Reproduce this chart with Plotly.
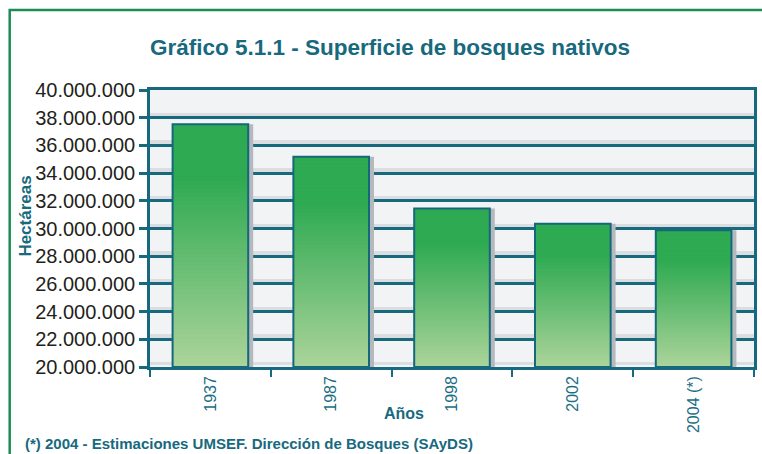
import plotly.graph_objects as go

# ---- data ----
years = ["1937", "1987", "1998", "2002", "2004 (*)"]
hectares = [37535000, 35180000, 31445000, 30350000, 29880000]
y_base = 20000000
y_top = 40000000
y_step = 2000000

title_text = "Gráfico 5.1.1 - Superficie de bosques nativos"
y_title = "Hectáreas"
x_title = "Años"
footnote = "(*) 2004 - Estimaciones UMSEF. Dirección de Bosques (SAyDS)"

# ---- style ----
W, H = 762, 454
L, R, T, B = 150, 5, 90, 87
pw, ph = W - L - R, H - T - B
teal = "#17697e"
frame_green = "#1d8c56"
bar_w = 0.626
top_col = (46, 170, 82)
bot_col = (172, 212, 154)
n_seg = 60
solid_frac = 0.22


def px_x(px):
    return (px - L) / pw


def px_y(py):
    return (H - B - py) / ph


def seg_color(k):
    f = (k + 0.5) / n_seg  # 0 bottom -> 1 top
    t = min(1.0, f / (1 - solid_frac))
    c = [round(b + (a - b) * t) for a, b in zip(top_col, bot_col)]
    return "rgb(%d,%d,%d)" % tuple(c)


fig = go.Figure()

heights = [v - y_base for v in hectares]

# shadow
fig.add_trace(go.Bar(
    x=years, y=heights, base=[y_base] * len(years),
    width=bar_w, offset=-bar_w / 2 + 5 / (pw / len(years)),
    marker=dict(color="#b5b8bd", line=dict(width=0)),
    hoverinfo="skip", showlegend=False,
))

# gradient fill: nested bars, each from its segment base up to the bar top
for k in range(n_seg):
    fig.add_trace(go.Bar(
        x=years,
        y=[h * (1 - k / n_seg) for h in heights],
        base=[y_base + h * k / n_seg for h in heights],
        width=bar_w,
        marker=dict(color=seg_color(k), line=dict(width=0)),
        hoverinfo="skip", showlegend=False,
    ))

# outline
fig.add_trace(go.Bar(
    x=years, y=heights, base=[y_base] * len(years),
    width=bar_w,
    marker=dict(color="rgba(0,0,0,0)", line=dict(color="#15687c", width=2)),
    showlegend=False,
))

major_vals = list(range(y_base, y_top + 1, y_step))

fig.update_layout(
    width=W, height=H,
    margin=dict(l=L, r=R, t=T, b=B),
    paper_bgcolor="white",
    plot_bgcolor="#f2f3f5",
    barmode="overlay",
    separators=",.",
    showlegend=False,
    title=dict(
        text="<b>" + title_text + "</b>",
        x=390 / W, xanchor="center", xref="container",
        y=1 - 47 / H, yanchor="middle", yref="container",
        font=dict(family="Liberation Sans, Arial", size=22.5, color=teal),
    ),
    xaxis=dict(
        type="category",
        showline=True, linecolor=teal, linewidth=2.5, mirror=True,
        ticks="outside", tickson="boundaries", ticklen=7, tickwidth=2, tickcolor=teal,
        tickangle=-90,
        tickfont=dict(family="Liberation Sans, Arial", size=16, color="#1a6e84"),
        showgrid=False,
    ),
    yaxis=dict(
        range=[y_base, y_top],
        tickvals=major_vals,
        tickformat=",.0f",
        showline=True, linecolor=teal, linewidth=2.5, mirror=True,
        ticks="outside", ticklen=8, tickwidth=2.5, tickcolor=teal,
        tickfont=dict(family="Liberation Sans, Arial", size=20, color="#231f20"),
        showgrid=True, gridcolor=teal, gridwidth=2.5,
        zeroline=False,
        minor=dict(
            tickvals=[v + 150000 for v in major_vals[1:]] + [v - 1750000 for v in major_vals[1:]],
            showgrid=True, gridcolor="#dcdde1", gridwidth=3, ticks="",
        ),
    ),
    shapes=[
        dict(type="rect", xref="paper", yref="paper",
             x0=px_x(9), x1=px_x(775), y0=px_y(470), y1=px_y(10),
             line=dict(color=frame_green, width=2.5), fillcolor="rgba(0,0,0,0)",
             layer="below"),
    ],
    annotations=[
        dict(text="<b>" + y_title + "</b>", xref="paper", yref="paper",
             x=px_x(24), y=px_y(216), xanchor="center", yanchor="middle",
             textangle=-90, showarrow=False,
             font=dict(family="Liberation Sans, Arial", size=17, color=teal)),
        dict(text="<b>" + x_title + "</b>", xref="paper", yref="paper",
             x=px_x(405), y=px_y(413), xanchor="center", yanchor="middle",
             showarrow=False,
             font=dict(family="Liberation Sans, Arial", size=16, color=teal)),
        dict(text="<b>" + footnote + "</b>", xref="paper", yref="paper",
             x=px_x(22), y=px_y(443), xanchor="left", yanchor="middle",
             showarrow=False,
             font=dict(family="Liberation Sans, Arial", size=15, color=teal)),
    ],
)

fig.write_html("out.html",
               config={"displayModeBar": False},
               post_script="document.body.style.margin='0';document.body.style.overflow='hidden';")
